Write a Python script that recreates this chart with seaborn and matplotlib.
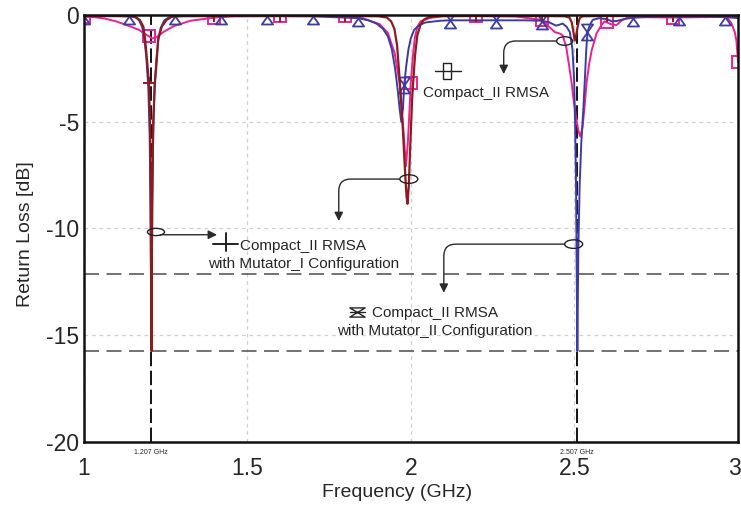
import numpy as np
import pandas as pd
import seaborn as sns
import matplotlib
matplotlib.use("Agg")
import matplotlib.pyplot as plt
import matplotlib.transforms as mtransforms
from matplotlib.path import Path
from matplotlib.patches import Ellipse
from matplotlib.lines import Line2D

# ---------------- data ----------------
# Compact_II RMSA with Mutator_I Configuration (brown, '+')
freq_m1 = [1.000, 1.100, 1.155, 1.172, 1.183, 1.188, 1.194, 1.200, 1.203, 1.205, 1.2065, 1.2075,
           1.2085, 1.210, 1.213, 1.218, 1.2235, 1.228, 1.239, 1.254, 1.270, 1.300, 1.400, 1.500,
           1.600, 1.700, 1.800, 1.900, 1.927, 1.940, 1.950, 1.958, 1.964, 1.970, 1.976, 1.982,
           1.987, 1.990, 1.994, 1.998, 2.004, 2.008, 2.013, 2.020, 2.030, 2.040, 2.055, 2.090,
           2.200, 2.300, 2.400, 2.470, 2.485, 2.492, 2.497, 2.501, 2.506, 2.511, 2.516, 2.525,
           2.600, 2.700, 2.800, 2.900, 3.000]
rl_m1 = [-0.05, -0.05, -0.06, -0.23, -0.55, -1.1, -2.1, -3.2, -5.0, -8.5, -12.5, -15.75,
         -12.5, -8.5, -5.0, -3.2, -2.2, -1.15, -0.55, -0.23, -0.08, -0.05, -0.05, -0.05,
         -0.05, -0.05, -0.05, -0.06, -0.12, -0.3, -0.65, -1.4, -2.6, -3.9, -5.4, -7.2,
         -8.5, -8.85, -8.0, -6.3, -4.0, -3.0, -1.9, -0.95, -0.45, -0.22, -0.1, -0.05,
         -0.05, -0.05, -0.05, -0.06, -0.12, -0.35, -0.8, -1.2, -0.9, -0.45, -0.15, -0.06,
         -0.05, -0.05, -0.05, -0.05, -0.05]
marks_m1 = [1.2, 1.4, 1.6, 1.8, 2.2, 2.4, 2.6, 2.8]

# Compact_II RMSA with Mutator_II Configuration (blue, hourglass)
freq_m2 = [1.000, 1.070, 1.140, 1.160, 1.170, 1.180, 1.186, 1.192, 1.198, 1.202, 1.205, 1.2065,
           1.2075, 1.2085, 1.210, 1.213, 1.217, 1.223, 1.229, 1.236, 1.247, 1.260, 1.280, 1.420,
           1.560, 1.700, 1.840, 1.870, 1.895, 1.915, 1.930, 1.942, 1.952, 1.960, 1.966, 1.971,
           1.976, 1.980, 1.986, 1.993, 2.000, 2.010, 2.025, 2.045, 2.090, 2.120, 2.260, 2.350,
           2.400, 2.424, 2.444, 2.455, 2.464, 2.476, 2.486, 2.494, 2.499, 2.502, 2.505, 2.507,
           2.509, 2.512, 2.516, 2.521, 2.527, 2.532, 2.536, 2.540, 2.547, 2.556, 2.575, 2.600,
           2.615, 2.630, 2.650, 2.680, 2.750, 2.820, 2.900, 2.960, 3.000]
rl_m2 = [-0.05, -0.05, -0.06, -0.12, -0.25, -0.6, -1.1, -2.0, -3.4, -5.5, -9.0, -13.0,
         -15.5, -13.0, -9.0, -5.5, -3.4, -2.0, -1.1, -0.6, -0.25, -0.12, -0.06, -0.05,
         -0.05, -0.06, -0.15, -0.25, -0.4, -0.65, -1.0, -1.6, -2.5, -3.5, -4.4, -5.0,
         -4.4, -3.3, -2.4, -1.6, -1.1, -0.7, -0.48, -0.35, -0.27, -0.25, -0.25, -0.25,
         -0.27, -0.35, -0.5, -0.45, -0.4, -0.55, -0.8, -1.6, -3.0, -5.0, -8.0, -12.0,
         -15.75, -11.0, -8.0, -6.0, -4.5, -3.0, -1.7, -0.8, -0.47, -0.23, -0.15, -0.2,
         -0.3, -0.28, -0.2, -0.12, -0.08, -0.08, -0.08, -0.1, -0.15]
marks_m2 = [1.0, 1.14, 1.28, 1.42, 1.56, 1.70, 1.84, 1.98, 2.12, 2.26, 2.40, 2.54, 2.68, 2.82, 2.96]

# Compact_II RMSA (magenta, squares)
freq_c2 = [1.000, 1.030, 1.063, 1.100, 1.145, 1.170, 1.185, 1.200, 1.210, 1.222, 1.246, 1.276,
           1.327, 1.400, 1.460, 1.600, 1.800, 1.853, 1.905, 1.930, 1.951, 1.966, 1.978, 1.985,
           1.991, 1.996, 2.000, 2.006, 2.012, 2.020, 2.030, 2.058, 2.100, 2.200, 2.320, 2.400,
           2.440, 2.455, 2.464, 2.475, 2.483, 2.490, 2.497, 2.505, 2.512, 2.518, 2.525, 2.531,
           2.537, 2.545, 2.553, 2.568, 2.583, 2.592, 2.600, 2.615, 2.629, 2.645, 2.660, 2.700,
           2.800, 2.900, 2.965, 2.980, 2.990, 2.995, 3.000]
rl_c2 = [-0.08, -0.1, -0.16, -0.3, -0.55, -0.7, -0.86, -1.0, -1.1, -1.05, -0.78, -0.52,
         -0.27, -0.12, -0.06, -0.05, -0.05, -0.15, -0.43, -0.84, -1.8, -3.2, -5.5, -7.1,
         -6.0, -4.5, -3.2, -2.0, -1.1, -0.55, -0.3, -0.14, -0.06, -0.05, -0.07, -0.23,
         -0.8, -0.87, -0.95, -1.5, -2.3, -3.0, -3.9, -4.8, -5.4, -5.7, -5.25, -4.3,
         -3.2, -2.3, -1.65, -0.85, -0.47, -0.3, -0.35, -0.45, -0.47, -0.25, -0.14, -0.1,
         -0.12, -0.1, -0.08, -0.4, -0.8, -1.2, -2.2]
marks_c2 = [1.0, 1.2, 1.4, 1.6, 1.8, 2.0, 2.2, 2.4, 2.6, 2.8, 3.0]

resonances = [1.207, 2.507]
resonance_labels = ["1.207 GHz", "2.507 GHz"]
ref_levels = [-12.15, -15.75]

x_ticks = [1, 1.5, 2, 2.5, 3]
x_ticklabels = ["1", "1.5", "2", "2.5", "3"]
y_ticks = [-20, -15, -10, -5, 0]
y_ticklabels = ["-20", "-15", "-10", "-5", "0"]

# ---------------- styling ----------------
sns.set_style("white")
plt.rcParams['font.family'] = ['Liberation Sans', 'DejaVu Sans']

BROWN = '#8e1b1f'
BLUE = '#3b3ca6'
MAGENTA = '#ef1f8f'

hourglass = Path([(-0.35, 0.5), (0.35, 0.5), (-0.35, -0.5), (0.35, -0.5), (-0.35, 0.5)],
                 [Path.MOVETO, Path.LINETO, Path.LINETO, Path.LINETO, Path.CLOSEPOLY])
wide_hourglass = Path([(-0.5, 0.3), (0.5, 0.3), (-0.5, -0.3), (0.5, -0.3), (-0.5, 0.3)],
                      [Path.MOVETO, Path.LINETO, Path.LINETO, Path.LINETO, Path.CLOSEPOLY])
tall_rect = Path([(-0.25, -0.5), (0.25, -0.5), (0.25, 0.5), (-0.25, 0.5), (-0.25, -0.5)],
                 [Path.MOVETO, Path.LINETO, Path.LINETO, Path.LINETO, Path.CLOSEPOLY])


def mark_idx(freqs, marks):
    return [i for i, f in enumerate(freqs) if any(abs(f - m) < 1e-6 for m in marks)]


fig = plt.figure(figsize=(7.41, 5.08), dpi=100)
ax = fig.add_axes([0.1127, 0.1305, 0.8833, 0.84])

# reference lines
for lvl in ref_levels:
    ax.axhline(lvl, color='#5a5a5a', lw=1.2, ls=(0, (9, 4.5)), zorder=1.5)
for r in resonances:
    ax.axvline(r, color='black', lw=1.3, ls=(0, (8, 2.5)), zorder=1.6)

# curves
sns.lineplot(x=freq_c2, y=rl_c2, ax=ax, color=MAGENTA, lw=1.4, estimator=None,
             marker='s', markersize=8.5, markevery=mark_idx(freq_c2, marks_c2),
             markerfacecolor='none', markeredgecolor=MAGENTA, markeredgewidth=1.4, zorder=2)
sns.lineplot(x=freq_m2, y=rl_m2, ax=ax, color=BLUE, lw=1.4, estimator=None,
             marker=hourglass, markersize=11.5, markevery=mark_idx(freq_m2, marks_m2),
             markerfacecolor='none', markeredgecolor=BLUE, markeredgewidth=1.3, zorder=2.2)
sns.lineplot(x=freq_m1, y=rl_m1, ax=ax, color=BROWN, lw=1.6, estimator=None,
             marker='+', markersize=8, markevery=mark_idx(freq_m1, marks_m1),
             markeredgecolor=BROWN, markeredgewidth=1.4, zorder=2.4)

# axes
ax.set_xlim(1, 3)
ax.set_ylim(-20, 0)
ax.set_xticks(x_ticks)
ax.set_xticklabels(x_ticklabels)
ax.set_yticks(y_ticks)
ax.set_yticklabels(y_ticklabels)
ax.set_xticks(resonances, minor=True)
ax.set_xticklabels(resonance_labels, minor=True)
ax.tick_params(axis='x', which='major', length=0, labelsize=16.5, pad=11)
ax.tick_params(axis='y', which='major', length=0, labelsize=16.5, pad=3)
ax.tick_params(axis='x', which='minor', length=5, width=1.1, direction='out',
               labelsize=5, pad=0.5, color='black')
ax.grid(True, which='major', color='#d0d0d0', ls=(0, (3, 3)), lw=0.9)
ax.set_axisbelow(True)
for s in ax.spines.values():
    s.set_visible(True)
    s.set_color('#111111')
    s.set_linewidth(1.8)

# keep the last x tick label inside the figure
last = ax.get_xticklabels()[-1]
last.set_transform(last.get_transform() +
                   mtransforms.ScaledTranslation(-4 / 100, 0, fig.dpi_scale_trans))

ax.set_xlabel("Frequency (GHz)", fontsize=14)
ax.set_ylabel("Return Loss [dB]", fontsize=14)
ax.xaxis.set_label_coords(0.479, -0.098)
ax.yaxis.set_label_coords(-0.076, 0.487)

# annotations: ellipses + arrows
ell_kw = dict(fill=False, ec='#222222', lw=1.0, zorder=5)
arr_kw = dict(arrowstyle='-|>', color='#2a2a2a', lw=1.0, shrinkA=0, shrinkB=0, mutation_scale=13)

ax.add_patch(Ellipse((2.470, -1.22), 0.049, 0.40, **ell_kw))
ax.annotate('', xy=(2.284, -2.77), xytext=(2.4455, -1.22),
            arrowprops=dict(connectionstyle='angle,angleA=180,angleB=90,rad=12', **arr_kw), zorder=5)

ax.add_patch(Ellipse((1.994, -7.69), 0.055, 0.40, **ell_kw))
ax.annotate('', xy=(1.780, -9.66), xytext=(1.9665, -7.69),
            arrowprops=dict(connectionstyle='angle,angleA=180,angleB=90,rad=12', **arr_kw), zorder=5)

ax.add_patch(Ellipse((1.2214, -10.17), 0.052, 0.34, **ell_kw))
ax.annotate('', xy=(1.408, -10.30), xytext=(1.235, -10.30),
            arrowprops=dict(**arr_kw), zorder=5)

ax.add_patch(Ellipse((2.4977, -10.74), 0.055, 0.40, **ell_kw))
ax.annotate('', xy=(2.101, -13.02), xytext=(2.470, -10.74),
            arrowprops=dict(connectionstyle='angle,angleA=180,angleB=90,rad=12', **arr_kw), zorder=5)

# label keys (axes-fraction coordinates)
T = ax.transAxes
ax.add_line(Line2D([0.5371, 0.5768], [0.8688, 0.8688], transform=T, color='#222', lw=1.0))
ax.plot([0.5554], [0.8688], transform=T, marker=tall_rect, markersize=11.5,
        mfc='none', mec='#222', mew=1.0, clip_on=False)
ax.text(0.5187, 0.8078, "Compact_II RMSA", transform=T, fontsize=11, va='baseline', ha='left')

ax.add_line(Line2D([0.1978, 0.2361], [0.4633, 0.4633], transform=T, color='#222', lw=1.4))
ax.add_line(Line2D([0.2177, 0.2177], [0.4461, 0.4883], transform=T, color='#222', lw=1.4))
ax.text(0.2391, 0.4493, "Compact_II RMSA", transform=T, fontsize=11, va='baseline', ha='left')
ax.text(0.1907, 0.4078, "with Mutator_I Configuration", transform=T, fontsize=11,
        va='baseline', ha='left')

ax.add_line(Line2D([0.4071, 0.4301], [0.3028, 0.3028], transform=T, color='#222', lw=1.0))
ax.plot([0.4186], [0.3028], transform=T, marker=wide_hourglass, markersize=11,
        mfc='none', mec='#222', mew=1.0, clip_on=False)
ax.text(0.4403, 0.2915, "Compact_II RMSA", transform=T, fontsize=11, va='baseline', ha='left')
ax.text(0.3868, 0.2501, "with Mutator_II Configuration", transform=T, fontsize=11,
        va='baseline', ha='left')

fig.savefig("out.png", dpi=100)
